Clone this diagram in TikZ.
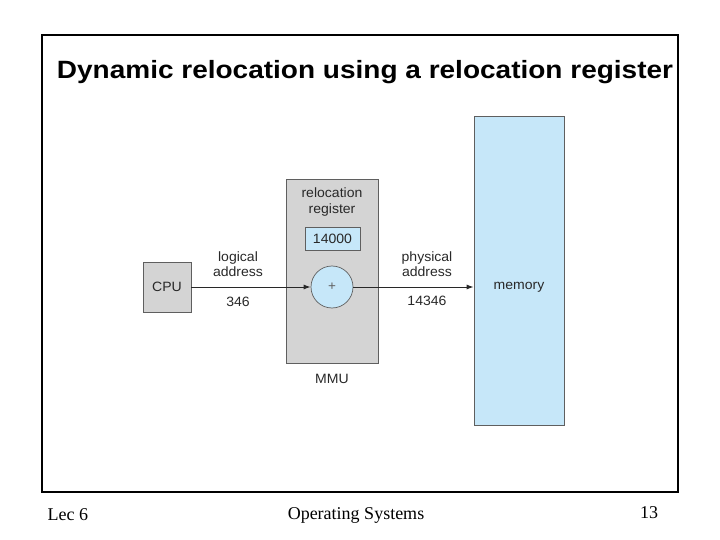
\documentclass[tikz,border=0pt]{standalone}
\usepackage{fontspec}
\setmainfont{Liberation Serif}
\setsansfont{Liberation Sans}
\newfontfamily\titlefont[FakeStretch=1.12]{Liberation Sans}
\newfontfamily\figfont[FakeStretch=1.04]{Liberation Sans}
\usepackage{tikz}
\usetikzlibrary{arrows.meta}
\usepackage{color}

\definecolor{boxgray}{RGB}{212,212,212}
\definecolor{edgegray}{RGB}{95,95,95}
\definecolor{lightblue}{RGB}{198,231,249}
\definecolor{figtext}{RGB}{40,40,40}

\begin{document}
\begin{tikzpicture}[x=1pt,y=-1pt,>={Latex[length=7pt,width=5pt]},
    figlabel/.style={text=figtext,font=\figfont\fontsize{13.5}{15.5}\selectfont,align=center,inner sep=0pt},
    unit/.style={draw=edgegray,line width=0.7pt,inner sep=0pt}]
    \useasboundingbox (0,0) rectangle (720,540);

    % slide frame and title
    \draw[black,line width=2pt] (42,35) rectangle (678,492);
    \node (title) at (365,72) {\titlefont\bfseries\fontsize{25}{29}\selectfont Dynamic relocation using a relocation register};

    % memory and MMU
    \node[unit,fill=lightblue,minimum width=90pt,minimum height=309pt] (mem) at (519,270.5) {};
    \node[figlabel] (memlabel) at (519,287) {memory};

    \node[unit,fill=boxgray,minimum width=92pt,minimum height=184pt] (mmu) at (332,271) {};
    \node[figlabel] (mmulabel) at (332,379) {MMU};
    \node[figlabel] (reglabel) at (332,202) {relocation\\register};
    \node[unit,fill=lightblue,minimum width=55pt,minimum height=23pt,figlabel] (reg) at (332.5,238.5) {14000};
    \node[unit,fill=lightblue,circle,minimum size=42pt,text=edgegray] (adder) at (332,287) {\figfont\fontsize{13}{15}\selectfont +};

    \node[unit,fill=boxgray,minimum width=48pt,minimum height=50pt,figlabel] (cpu) at (167,287) {CPU};

    % address labels
    \node[figlabel] (logical) at (238,264) {logical\\address};
    \node[figlabel] (logval) at (238,302) {346};
    \node[figlabel] (physical) at (427,264) {physical\\address};
    \node[figlabel] (physval) at (427,301) {14346};

    \draw[figtext,->,line width=1pt] (cpu) -- (adder);
    \draw[figtext,->,line width=1pt] (adder) -- (adder -| mem.west);

    % footer
    \node[anchor=west] (lec) at (44,515) {\fontsize{18}{21}\selectfont Lec 6};
    \node (course) at (356,515) {\fontsize{18}{21}\selectfont Operating Systems};
    \node (page) at (649,513) {\fontsize{18}{21}\selectfont 13};

    \end{tikzpicture}
\end{document}
